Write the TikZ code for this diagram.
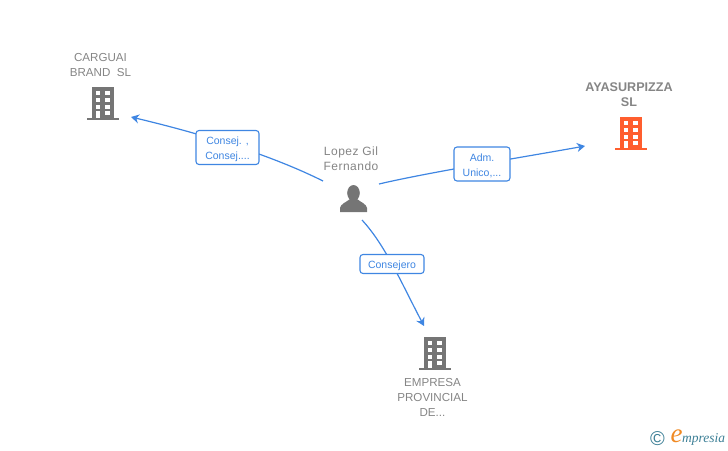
\documentclass[tikz,border=0pt]{standalone}
\usepackage{fontspec}
\usepackage{tikz}
\usetikzlibrary{arrows.meta}
\setmainfont{Liberation Sans}
\newfontfamily\spacedfont[LetterSpace=4]{Liberation Sans}
\newfontfamily\logofont{Liberation Serif}
\newcommand{\boxstrut}{\rule{0pt}{10.5pt}}
\definecolor{linkblue}{HTML}{3F86E2}
\definecolor{icongray}{HTML}{757575}
\definecolor{textgray}{HTML}{858585}
\definecolor{iconorange}{HTML}{FF5E2E}
\definecolor{logoteal}{HTML}{3C7F96}
\definecolor{logoorange}{HTML}{F08A24}
\tikzset{
  linkarrow/.style={draw=linkblue, line width=1.2pt, -{Stealth[length=8pt,width=9pt,inset=2.5pt]}},
  rolebox/.style={draw=linkblue, fill=white, rounded corners=3pt, line width=1.1pt, text=linkblue,
    font=\fontsize{10.5}{15}\selectfont, align=center, inner sep=0pt},
  firmlabel/.style={text=textgray, font=\fontsize{11.6}{15}\selectfont, align=center, inner sep=0pt},
  personlabel/.style={text=textgray, font=\spacedfont\fontsize{12}{15}\selectfont, align=center, inner sep=0pt},
  pics/officeblock/.style={code={
    \fill[#1] (-11,-33) rectangle (11,-1);
    \fill[#1] (-16,-2) rectangle (16,0);
    \foreach \wy in {-29,-22,-15} {
      \fill[white] (-7,\wy) rectangle (-3,\wy+4);
      \fill[white] (2.3,\wy) rectangle (6.7,\wy+4);
    }
    \fill[white] (-7,-9) rectangle (-3,-2);
    \fill[white] (2.3,-9) rectangle (6.7,-5);
  }},
  pics/personicon/.style={code={
    \fill[#1] (0,-19) ellipse (6.3 and 8);
    \fill[#1] (-13.5,0) -- (-13.5,-4) .. controls (-13,-8) and (-7,-10) .. (-3.5,-13)
      -- (3.5,-13) .. controls (7,-10) and (13,-8) .. (13.5,-4) -- (13.5,0) -- cycle;
  }}
}
\begin{document}
\begin{tikzpicture}[x=1pt,y=-1pt]
  \useasboundingbox (0,0) rectangle (728,450);

  \node[firmlabel] (carguai) at (100.5,65) {CARGUAI\\BRAND\ \ SL};
  \pic at (103,119.5) {officeblock=icongray};
  \node[firmlabel, font=\bfseries\fontsize{12.6}{15}\selectfont] (ayasur) at (629,94.5) {AYASURPIZZA\\SL};
  \pic at (631,149.5) {officeblock=iconorange};
  \node[firmlabel] (empresa) at (432.5,397.5) {EMPRESA\\PROVINCIAL\\DE...};
  \pic at (435,369.5) {officeblock=icongray};
  \node[personlabel] (lopez) at (351,158.5) {Lopez Gil\\Fernando};
  \pic at (353.5,212) {personicon=icongray};

  \coordinate (carguaiend) at (131,117);
  \coordinate (ayasurend) at (585,146);
  \coordinate (empresaend) at (424,326);
  \coordinate (lopezleft) at (323,181);
  \coordinate (lopezright) at (379,184);
  \coordinate (lopezdown) at (362,220);

  \draw[linkarrow] (lopezleft) .. controls (265,152) and (190,131) .. (carguaiend);
  \draw[linkarrow] (lopezright) .. controls (430,172) and (530,156) .. (ayasurend);
  \draw[linkarrow] (lopezdown) .. controls (385,245) and (400,280) .. (empresaend);

  \node[rolebox, minimum width=63pt, minimum height=34pt] (roleleft) at (227.5,147.5) {\boxstrut Consej. ,\\Consej....};
  \node[rolebox, minimum width=56pt, minimum height=34pt] (roleright) at (482,164) {\boxstrut Adm.\\Unico,...};
  \node[rolebox, minimum width=64pt, minimum height=19pt] (roledown) at (392,264) {\rule{0pt}{11pt}Consejero};

  \node[inner sep=0pt, text=logoteal, font=\fontsize{20}{20}\selectfont] (logomark) at (657.5,438.5) {©};
  \node[inner sep=0pt, text=logoorange, font=\logofont\itshape\fontsize{27}{27}\selectfont] (logoe) at (676.5,436) {e};
  \node[inner sep=0pt, anchor=base west, text=logoteal, font=\logofont\itshape\fontsize{13.5}{14}\selectfont] (logotext) at (682,442) {mpresia};
\end{tikzpicture}
\end{document}
